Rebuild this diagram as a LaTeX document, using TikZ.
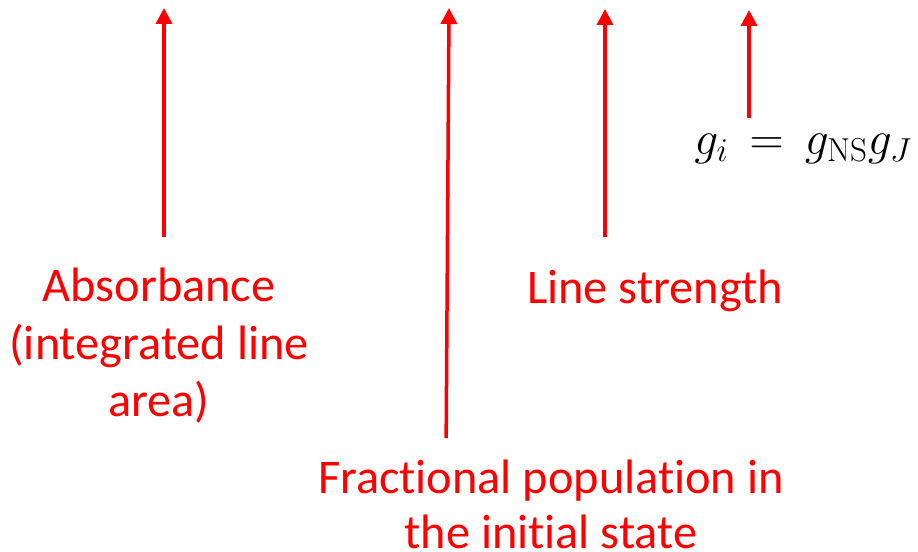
\RequirePackage{fix-cm}
\documentclass[tikz,border=0pt]{standalone}
\usepackage[no-math]{fontspec}
\setmainfont{Carlito}[Ligatures=NoCommon]
\usetikzlibrary{arrows.meta}

\begin{document}
\begin{tikzpicture}[x=0.02cm,y=-0.02cm,>={Triangle[width=0.32cm,length=0.32cm]},
    redtext/.style={text=red,align=center,inner sep=0pt,font=\fontsize{27.5}{32.5}\selectfont},
    pointer/.style={->,red,line width=0.07cm}]
    \useasboundingbox (0,0) rectangle (918,551);
    % labels
    \node[redtext,anchor=north] (absorb) at (159,268) {Absorbance\\(integrated line\\area)};
    \node[redtext,anchor=north] (strength) at (655,270) {Line strength};
    \node[redtext,anchor=north,font=\fontsize{27.5}{31.2}\selectfont] (fraction) at (551,460) {Fractional population in\\the initial state};
    \node[inner sep=0pt,anchor=base west,font=\fontsize{27}{32}\selectfont] (gfactor) at (694,154) {$g_i \,=\, g_{\mathrm{NS}}g_J$};
    % arrow tips
    \coordinate (tipA) at (164,8);
    \coordinate (tipF) at (449,8);
    \coordinate (tipS) at (605,9);
    \coordinate (tipG) at (749,10);
    \foreach \from/\to/\gap in {absorb/tipA/0.62cm,strength/tipS/0.66cm,gfactor/tipG/0.3cm}
        \draw[pointer,shorten <=\gap] (\from.north -| \to) -- (\to);
    \draw[pointer,shorten <=0.44cm] ([xshift=-0.06cm]fraction.north -| tipF) -- (tipF);
\end{tikzpicture}
\end{document}
